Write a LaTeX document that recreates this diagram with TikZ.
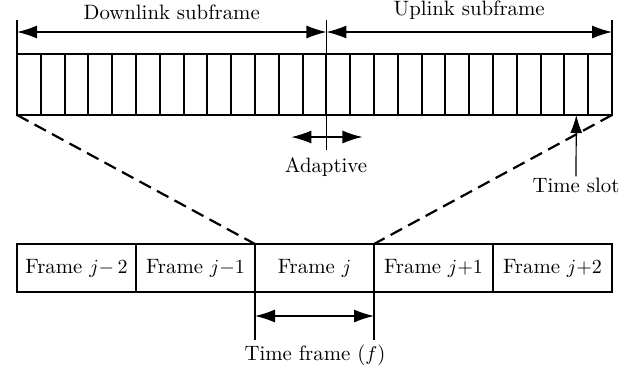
\documentclass[tikz,border=0pt]{standalone}
\usetikzlibrary{arrows.meta,calc}
\begin{document}
\begin{tikzpicture}[x=0.5pt,y=-0.5pt,
  slot/.style={draw,line width=1pt,minimum width=11.9pt,minimum height=30.5pt,inner sep=0pt,outer sep=0pt},
  framebox/.style={draw,line width=1pt,minimum width=59.5pt,minimum height=24pt,inner sep=0pt,outer sep=0pt,font=\fontsize{10.4}{12}\selectfont},
  dim/.style={line width=0.6pt,{Latex[length=10pt,width=6.5pt]}-{Latex[length=10pt,width=6.5pt]}},
  pointer/.style={line width=0.6pt,-{Latex[length=9pt,width=6pt]}},
  tick/.style={line width=0.6pt},
  zoomline/.style={line width=1.1pt,dash pattern=on 6.5pt off 3.45pt},
  lbl/.style={inner sep=0pt,font=\fontsize{10.4}{12}\selectfont}]
\useasboundingbox (0,0) rectangle (633,371);

% the 25 time slots of one frame
\foreach \i in {1,...,25}
  \node[slot] (s\i) at ({17+23.8*(\i-0.5)},84.5) {};

% five consecutive frames
\node[framebox] (f1) at ({17+119*0.5},268) {Frame $j{-}\,2$};
\node[framebox] (f2) at ({17+119*1.5},268) {Frame $j{-}1$};
\node[framebox] (f3) at ({17+119*2.5},268) {Frame $j$};
\node[framebox] (f4) at ({17+119*3.5},268) {Frame $j{+}1$};
\node[framebox] (f5) at ({17+119*4.5},268) {Frame $j{+}2$};

% extension lines of the subframe dimensions
\draw[tick] (s1.north west) -- ++(0,-34);
\draw[tick] ($(s13.north east)+(0,-34)$) -- ($(s13.south east)+(0,35)$);
\draw[tick] (s25.north east) -- ++(0,-34);

% subframe dimensions
\draw[dim] ($(s1.north west)+(0,-22)$) -- node[lbl,above=6pt] {Downlink subframe} ($(s13.north east)+(0,-22)$);
\draw[dim] ($(s13.north east)+(0,-22)$) -- node[lbl,above=6pt] {Uplink subframe} ($(s25.north east)+(0,-22)$);

% adaptive boundary
\coordinate (adL) at ($(s13.south east)+(-35,22)$);
\coordinate (adR) at ($(s13.south east)+(36,22)$);
\draw[dim] (adL) -- (adR);
\node[lbl] (adaptive) at (326,167) {Adaptive};

% one time slot
\node[lbl] (tslot) at (576,185) {Time slot};
\draw[pointer] ($(tslot.north)+(0,-1)$) -- (s24.south);

% zoom lines from the frame to its slots
\draw[zoomline] (s1.south west) -- (f3.north west);
\draw[zoomline] (s25.south east) -- (f3.north east);

% frame duration
\draw[tick] (f3.south west) -- ++(0,48);
\draw[tick] (f3.south east) -- ++(0,48);
\draw[dim] ($(f3.south west)+(0,24)$) -- ($(f3.south east)+(0,24)$);
\node[lbl] (tframe) at (315,355) {Time frame ($f$)};
\end{tikzpicture}
\end{document}
